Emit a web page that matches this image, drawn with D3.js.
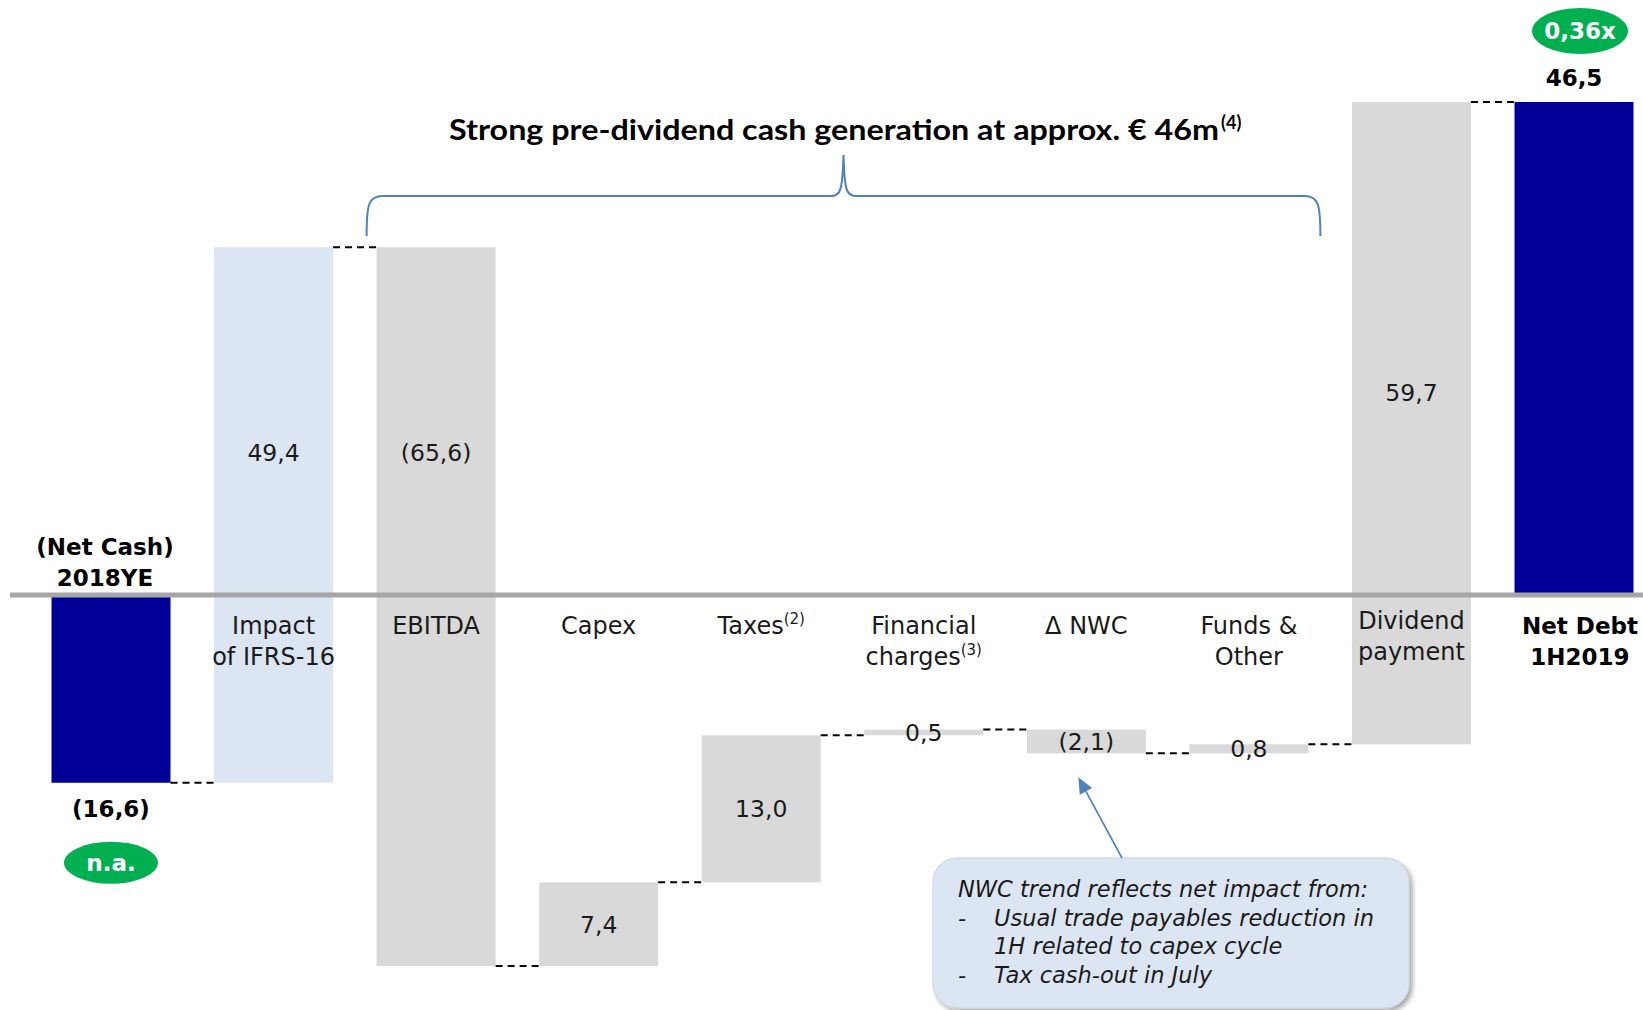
<!DOCTYPE html>
<html><head><meta charset="utf-8">
<script src="https://cdn.jsdelivr.net/npm/d3@7/dist/d3.min.js"></script>
<style>body{margin:0;background:#fff;overflow:hidden}</style>
</head><body>
<svg id="chart" width="1643" height="1010"></svg>
<script>
// ---------- data ----------
const categoryLines = [
  ["(Net Cash)", "2018YE"],
  ["Impact", "of IFRS-16"],
  ["EBITDA"],
  ["Capex"],
  ["Taxes^(2)"],
  ["Financial", "charges^(3)"],
  ["Δ NWC"],
  ["Funds &", "Other"],
  ["Dividend", "payment"],
  ["Net Debt", "1H2019"]
];
const changes = [-16.6, 49.4, -65.6, 7.4, 13.0, 0.5, -2.1, 0.8, 59.7, 46.5];
const barKinds = ["total", "ifrs", "step", "step", "step", "step", "step", "step", "step", "total"];
const leverageLabels = ["n.a.", "0,36x"];
const titleText = "Strong pre-dividend cash generation at approx. € 46m";
const titleNote = "(4)";
const calloutLines = [
  ["", "NWC trend reflects net impact from:"],
  ["-", "Usual trade payables reduction in"],
  ["", "1H related to capex cycle"],
  ["-", "Tax cash-out in July"]
];

// ---------- build waterfall ----------
let cum = 0;
const bars = changes.map((v, i) => {
  let start, end;
  if (barKinds[i] === "total") { start = 0; end = v; cum = v; }
  else { start = cum; end = cum + v; cum = end; }
  return { i, v, start, end, kind: barKinds[i] };
});

const fmt = v => {
  const s = Math.abs(v).toFixed(1).replace(".", ",");
  return v < 0 ? "(" + s + ")" : s;
};

const svg = d3.select("#chart");
const W = 1643, H = 1010;
const REG = "'DejaVu Sans', 'Noto Sans', sans-serif";

const lo = d3.min(bars, d => Math.min(d.start, d.end));
const hi = d3.max(bars, d => Math.max(d.start, d.end));
const y = d3.scaleLinear().domain([lo, 0, hi]).range([966, 595, 102]);
const x = d3.scalePoint().domain(d3.range(bars.length)).range([111, 1574]);
const bw = 119;

const colors = { total: "#000099", ifrs: "#dce6f2", step: "#d9d9d9" };

// bars
svg.append("g").selectAll("rect").data(bars).join("rect")
  .attr("x", d => x(d.i) - bw / 2)
  .attr("width", bw)
  .attr("y", d => y(Math.max(d.start, d.end)))
  .attr("height", d => Math.max(1, Math.abs(y(d.start) - y(d.end))))
  .attr("fill", d => colors[d.kind]);

// connectors
svg.append("g").selectAll("line").data(bars.slice(0, -1)).join("line")
  .attr("x1", d => x(d.i) + bw / 2)
  .attr("x2", d => x(d.i + 1) - bw / 2)
  .attr("y1", d => y(d.end))
  .attr("y2", d => y(d.end))
  .attr("stroke", "#000").attr("stroke-width", 2).attr("stroke-dasharray", "7,5");

// zero axis line
svg.append("line").attr("x1", 10).attr("x2", W).attr("y1", y(0)).attr("y2", y(0))
  .attr("stroke", "#a6a6a6").attr("stroke-width", 5);

// value labels
bars.forEach(d => {
  const t = svg.append("text").attr("x", x(d.i)).attr("text-anchor", "middle")
    .attr("font-family", REG).text(fmt(d.v));
  if (d.kind === "total") {
    t.attr("font-weight", "bold").attr("font-size", 23).attr("fill", "#000");
    if (d.v < 0) t.attr("y", y(d.end) + 34);
    else t.attr("y", y(d.end) - 16);
  } else {
    const top = Math.max(d.start, d.end), bot = Math.min(d.start, d.end);
    const cy = (top > 0 && bot < 0) || (d.start === 0) ? y(top * 0.41) : (y(top) + y(bot)) / 2;
    t.attr("y", cy).attr("dy", "0.36em").attr("font-size", 23.5).attr("fill", "#1a1a1a");
  }
});

// leverage ellipses
[[0, leverageLabels[0]], [bars.length - 1, leverageLabels[1]]].forEach(([i, lab]) => {
  const d = bars[i];
  const cy = d.v < 0 ? y(d.end) + 80 : y(d.end) - 71;
  const cx = d.v < 0 ? x(i) : x(i) + 6;
  const rx = d.v < 0 ? 47 : 48, ry = d.v < 0 ? 21 : 23;
  svg.append("ellipse").attr("cx", cx).attr("cy", cy).attr("rx", rx).attr("ry", ry).attr("fill", "#00b050");
  svg.append("text").attr("x", cx).attr("y", cy).attr("dy", "0.36em").attr("text-anchor", "middle")
    .attr("font-family", REG).attr("font-weight", "bold").attr("font-size", 23).attr("fill", "#fff").text(lab);
});

// category labels
function addLine(sel, str) {
  const parts = str.split("^");
  sel.append("tspan").text(parts[0]);
  if (parts[1]) sel.append("tspan").attr("font-size", 15).attr("dy", -10).text(parts[1]);
}
bars.forEach(d => {
  const lines = categoryLines[d.i];
  const isTotal = d.kind === "total";
  let baseY;
  if (isTotal && d.v < 0) baseY = y(0) - 40;       // above axis for start bar
  else baseY = y(0) + 39 - (d.i === 8 ? 5 : 0);
  const cx = d.i === 0 ? x(d.i) - 6 : (d.i === bars.length - 1 ? x(d.i) + 6 : x(d.i));
  lines.forEach((ln, k) => {
    const t = svg.append("text").attr("x", cx).attr("y", baseY + k * 31)
      .attr("text-anchor", "middle").attr("font-family", REG)
      .attr("font-size", isTotal ? 23 : 24)
      .attr("font-weight", isTotal ? "bold" : "normal")
      .attr("fill", isTotal ? "#000" : "#1a1a1a");
    addLine(t, ln);
  });
});

// brace over the pre-dividend items
const bx0 = x(2) - bw / 2 - 10, bx1 = x(7) + bw / 2 + 12;
const bxm = (bx0 + bx1) / 2, byEnd = 236, byH = 196, byTop = 155;
svg.append("path")
  .attr("d", `M${bx0},${byEnd} C${bx0},${byH + 8} ${bx0 + 2},${byH} ${bx0 + 16},${byH}
    L${bxm - 12},${byH} C${bxm - 3},${byH} ${bxm - 1},${byH - 6} ${bxm},${byTop}
    C${bxm + 1},${byH - 6} ${bxm + 3},${byH} ${bxm + 12},${byH}
    L${bx1 - 16},${byH} C${bx1 - 2},${byH} ${bx1},${byH + 8} ${bx1},${byEnd}`)
  .attr("fill", "none").attr("stroke", "#4f81bd").attr("stroke-width", 2);

// title
const tt = svg.append("text").attr("x", 449).attr("y", 140)
  .attr("font-family", "Lato, 'Open Sans', sans-serif").attr("font-weight", "bold").attr("font-size", 29).attr("fill", "#000");
tt.append("tspan").attr("textLength", 770).attr("lengthAdjust", "spacingAndGlyphs").text(titleText);
tt.append("tspan").attr("font-size", 18).attr("dy", -11).attr("dx", 2).text(titleNote);

// callout box
const defs = svg.append("defs");
const f = defs.append("filter").attr("id", "sh").attr("x", "-5%").attr("y", "-5%").attr("width", "115%").attr("height", "120%");
f.append("feGaussianBlur").attr("in", "SourceAlpha").attr("stdDeviation", 2.5);
f.append("feOffset").attr("dx", 3).attr("dy", 3).attr("result", "o");
f.append("feComponentTransfer").append("feFuncA").attr("type", "linear").attr("slope", 0.35);
const fm = f.append("feMerge"); fm.append("feMergeNode"); fm.append("feMergeNode").attr("in", "SourceGraphic");
const nwcBar = bars[6];
svg.append("rect").attr("x", 933).attr("y", 858).attr("width", 476).attr("height", 150).attr("rx", 24)
  .attr("fill", "#dce6f2").attr("stroke", "#c8d3e0").attr("stroke-width", 1).attr("filter", "url(#sh)");
calloutLines.forEach((ln, k) => {
  const yy = 897 + k * 28.5;
  if (ln[0]) svg.append("text").attr("x", 958).attr("y", yy).attr("font-family", REG).attr("font-style", "italic")
    .attr("font-size", 22.5).attr("fill", "#1a1a1a").text(ln[0]);
  svg.append("text").attr("x", ln[0] || k > 0 ? 994 : 958).attr("y", yy).attr("font-family", REG).attr("font-style", "italic")
    .attr("font-size", 22.5).attr("fill", "#1a1a1a").text(ln[1]);
});

// arrow to NWC bar
const ax0 = 1122, ay0 = 858, ax1 = x(6) - 8, ay1 = y(nwcBar.end) + 24;
const ang = Math.atan2(ay1 - ay0, ax1 - ax0);
const hl = 16, hw = 7;
const bxp = ax1 - hl * Math.cos(ang), byp = ay1 - hl * Math.sin(ang);
svg.append("line").attr("x1", ax0).attr("y1", ay0).attr("x2", bxp).attr("y2", byp)
  .attr("stroke", "#4f81bd").attr("stroke-width", 1.6);
svg.append("path").attr("d", `M${ax1},${ay1} L${bxp + hw * Math.sin(ang)},${byp - hw * Math.cos(ang)} L${bxp - hw * Math.sin(ang)},${byp + hw * Math.cos(ang)} Z`)
  .attr("fill", "#4f81bd");
</script>
</body></html>
